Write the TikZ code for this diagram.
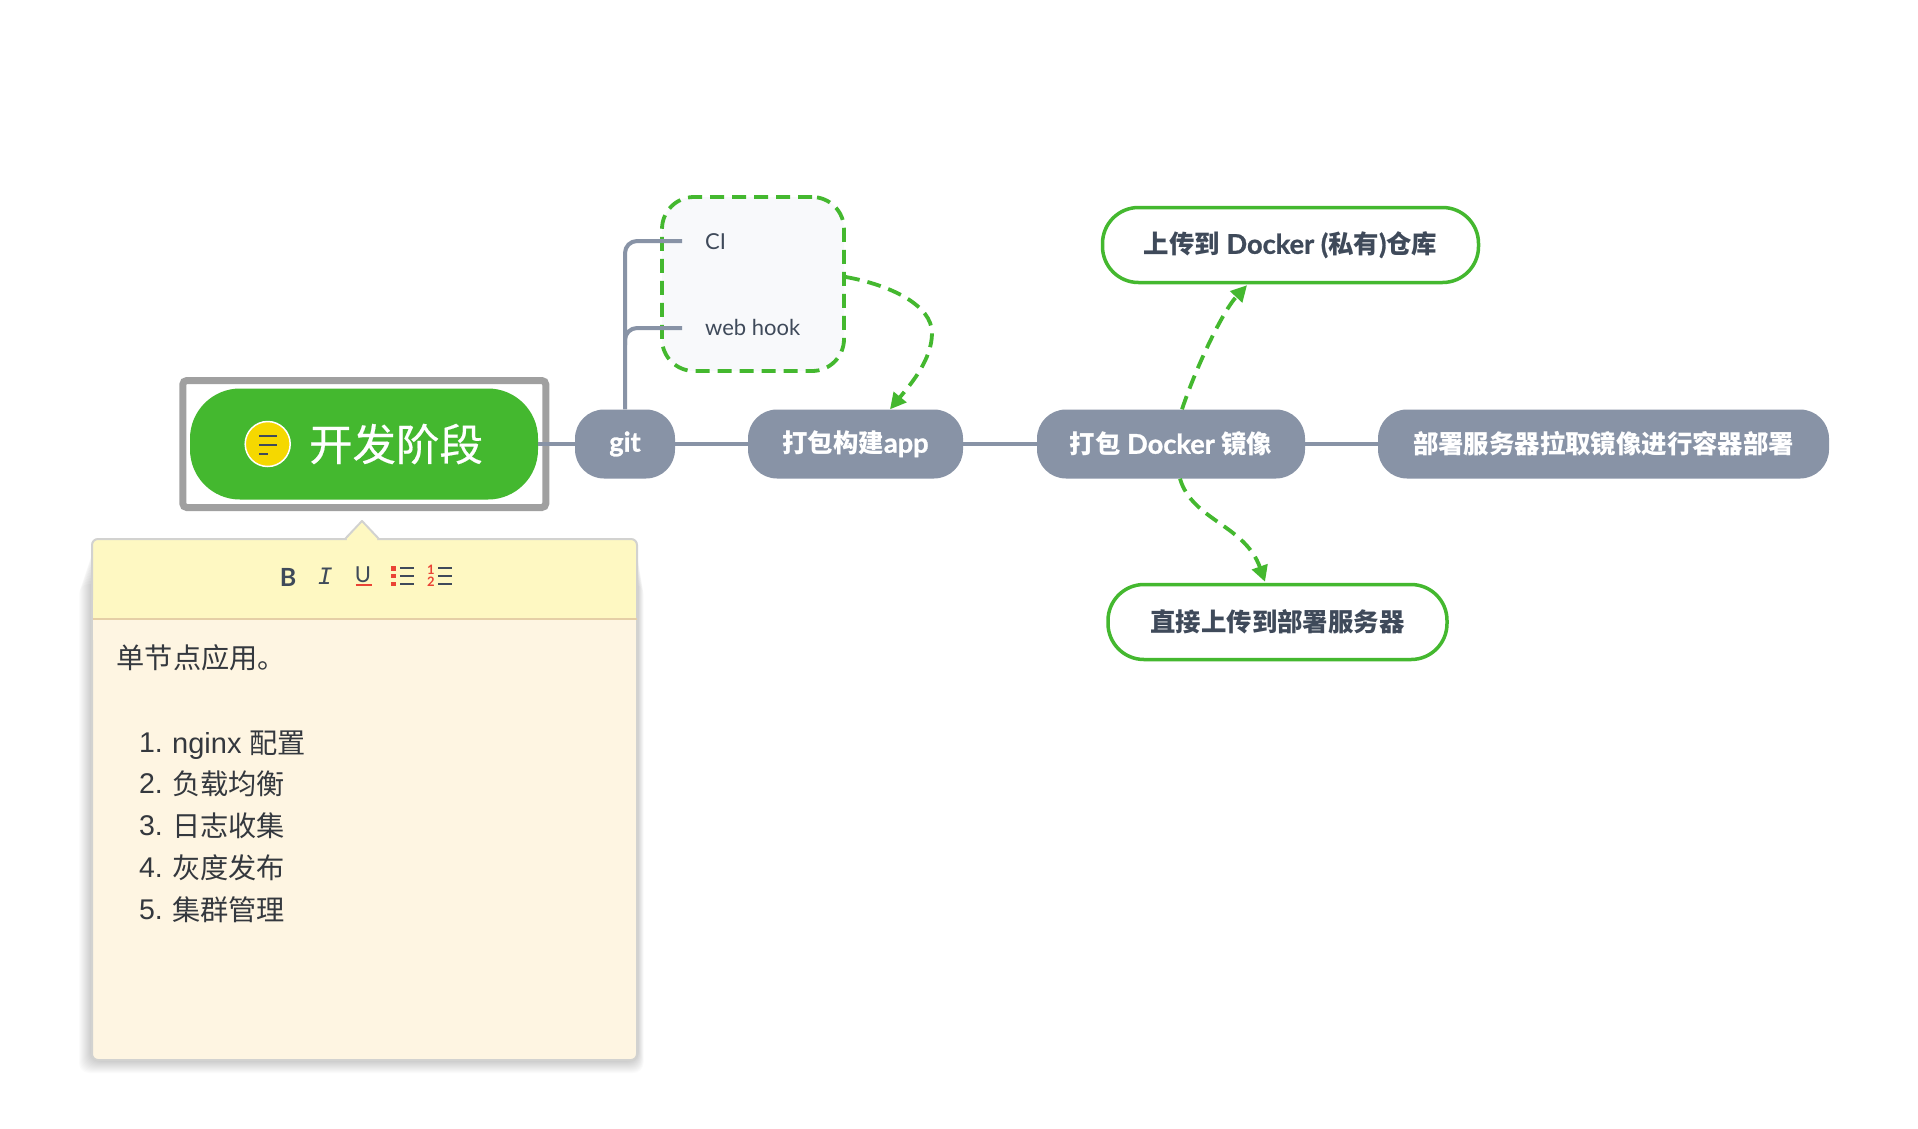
\documentclass[tikz,border=0pt]{standalone}
\usepackage{fontspec}
\setmainfont{Lato}
\newfontfamily\cjk{Noto Sans CJK SC}
\newfontfamily\cjkm{Noto Sans CJK SC}[FakeBold=0.35]
\newfontfamily\cjkb{Noto Sans CJK SC}
\newfontfamily\heavy{Lato}[Scale=1.07,BoldFeatures={FakeBold=1}]
\newfontfamily\notelat{Liberation Sans}
\newfontfamily\tmono{Liberation Mono}
\usetikzlibrary{arrows.meta}
\definecolor{grn}{HTML}{44B82F}
\definecolor{gry}{HTML}{8893A6}
\definecolor{frm}{HTML}{A0A0A0}
\definecolor{ink}{HTML}{3F4A5A}
\definecolor{noteink}{HTML}{34383E}
\definecolor{hdr}{HTML}{FEF8C2}
\definecolor{bod}{HTML}{FEF5E2}
\definecolor{sep}{HTML}{E5CFA6}
\definecolor{edge}{HTML}{D2D2D0}
\definecolor{ylw}{HTML}{F5D800}
\definecolor{red1}{HTML}{EA4335}
\definecolor{boxbg}{HTML}{F8F9FB}
\newcommand{\cj}[1]{{\cjkb\bfseries #1}}
\tikzset{
  graypill/.style={fill=gry,text=white,rounded corners=29pt,minimum height=69pt,inner sep=0pt,font=\fontsize{25.4}{25.4}\selectfont\heavy\bfseries},
  greenpill/.style={draw=grn,line width=3.5pt,fill=white,text=ink,rounded corners=36pt,minimum height=75pt,inner sep=0pt,font=\fontsize{25.4}{25.4}\selectfont\heavy\bfseries},
  link/.style={draw=gry,line width=4pt},
  flow/.style={draw=grn,line width=3.8pt,dash pattern=on 14pt off 8pt,-{Triangle[length=16pt,width=16pt,fill=grn]}},
  leaf/.style={text=ink,inner sep=0pt,font=\fontsize{22}{22}\selectfont},
  noteline/.style={text=noteink,inner sep=0pt,anchor=west,font=\fontsize{28.2}{28.2}\selectfont\notelat},
  notenum/.style={text=noteink,inner sep=0pt,anchor=east,font=\fontsize{28.5}{28.5}\selectfont\notelat},
  tool/.style={draw=ink,line width=1.8pt},
}
\begin{document}
\begin{tikzpicture}[x=1pt,y=-1pt]
\useasboundingbox (0,0) rectangle (1918,1128);
\fill[white] (0,0) rectangle (1918,1128);
% note shadow
\foreach \s in {13,12,11,10,9,8,7,6,5,4,3,2,1}{
  \fill[black,opacity=0.014,rounded corners=10pt] (92-\s,545+3*\s) rectangle (637+0.5*\s,1060+\s);
}
% note
\node[draw=edge,line width=2pt,fill=hdr,minimum width=545pt,minimum height=79pt,rounded corners=6pt,inner sep=0pt] (hdrbox) at (364.5,578.5) {};
\draw[edge,line width=2pt,fill=hdr,line join=round] (345,539) -- (362,521) -- (379,539);
\fill[hdr] (347,539) -- (362,523) -- (377,539) -- (377,542) -- (347,542) -- cycle;
\draw[edge,line width=2pt,fill=bod,rounded corners=6pt] (92,600) -- (92,1060) -- (637,1060) -- (637,600);
\fill[bod] (93,618) rectangle (636,640);
\fill[hdr] (93,600) rectangle (636,618);
\draw[sep,line width=2pt] (92.5,618.5) -- (636.5,618.5);
% toolbar
\node[text=ink,inner sep=0pt,font=\fontsize{25}{25}\selectfont\bfseries] (tb) at (288,577) {B};
\node[text=ink,inner sep=0pt,font=\fontsize{25}{25}\selectfont\tmono\itshape] (ti) at (325,576) {I};
\node[text=ink,inner sep=0pt,font=\fontsize{22}{22}\selectfont] (tu) at (363,575) {U};
\draw[red1,line width=2pt] (355.5,585) -- (371.5,585);
\fill[red1] (391,566) rectangle (395.5,571);
\fill[red1] (391,582) rectangle (395.5,586);
\fill[red1] (391,574) rectangle (395.5,578);
\draw[tool] (400,568) -- (414,568) (400,576) -- (414,576) (400,584) -- (414,584);
\node[text=red1,inner sep=0pt,font=\fontsize{13}{13}\selectfont\bfseries] (n1) at (431,570) {1};
\node[text=red1,inner sep=0pt,font=\fontsize{13}{13}\selectfont\bfseries] (n2) at (431,582) {2};
\draw[tool] (438,568) -- (452,568) (438,576) -- (452,576) (438,584) -- (452,584);
% note text
\node[noteline] (t0) at (116.5,658) {\cjk 单节点应用。};
\node[notenum] (n-1) at (163,743) {1.};
\node[noteline] (t1) at (172,745) {\fontsize{29}{29}\selectfont nginx {\fontsize{28.2}{28.2}\selectfont\cjk 配置}};
\node[notenum] (n-2) at (163,784) {2.};
\node[noteline] (t2) at (172,784) {\cjk 负载均衡};
\node[notenum] (n-3) at (163,826) {3.};
\node[noteline] (t3) at (172,826) {\cjk 日志收集};
\node[notenum] (n-4) at (163,868) {4.};
\node[noteline] (t4) at (172,868) {\cjk 灰度发布};
\node[notenum] (n-5) at (163,910) {5.};
\node[noteline] (t5) at (172,910) {\cjk 集群管理};
% dashed group
\node[draw=grn,line width=3.8pt,dash pattern=on 14pt off 8pt,fill=boxbg,rounded corners=32pt,minimum width=182pt,minimum height=174pt,inner sep=0pt] (grp) at (753,284) {};
% root
\node[fill=grn,rounded corners=50pt,minimum width=348pt,minimum height=111pt,inner sep=0pt] (root) at (364,444) {};
\node[draw=frm,line width=7pt,rounded corners=4pt,minimum width=363pt,minimum height=127pt,inner sep=0pt] (frame) at (364.3,444) {};
\node[circle,fill=ylw,draw=white,line width=1.5pt,minimum size=45pt,inner sep=0pt] (badge) at (267.7,444) {};
\draw[ink,line width=2.4pt] (259,436) -- (277,436) (259,445) -- (277,445) (259,454) -- (268,454);
\node[text=white,inner sep=0pt,font=\fontsize{43.5}{44}\selectfont\cjkm] (roottxt) at (396,444) {开发阶段};
% main nodes
\node[graypill,minimum width=100pt] (git) at (625,444) {git};
\node[graypill,minimum width=215pt] (app) at (855.5,444) {\cj{打包构建}app};
\node[graypill,minimum width=268pt] (img) at (1171,444) {\cj{打包} Docker \cj{镜像}};
\node[graypill,minimum width=451pt] (dep) at (1603.5,444) {\cj{部署服务器拉取镜像进行容器部署}};
\node[greenpill,minimum width=376pt] (up) at (1290.5,245) {\cj{上传到} Docker (\cj{私有})\cj{仓库}};
\node[greenpill,minimum width=339pt] (direct) at (1277.5,622) {\cj{直接上传到部署服务器}};
% leaves
\node[leaf,anchor=west] (ci) at (705,242) {CI};
\node[leaf,anchor=west] (hook) at (705,327) {web hook};
\coordinate (ciend) at (682,241);
\coordinate (hookend) at (682,328);
% connectors
\draw[link] (root.east) -- (git.west);
\draw[link] (git.east) -- (app.west);
\draw[link] (app.east) -- (img.west);
\draw[link] (img.east) -- (dep.west);
\draw[link,rounded corners=12pt] (git.north) -- (625,241) -- (ciend);
\draw[link,rounded corners=12pt] (625,345) -- (625,328) -- (hookend);
% flows
\draw[flow] ([yshift=7pt]grp.east) .. controls (890,285) and (932,305) .. (932,333) .. controls (932,360) and (910,385) .. ([xshift=34.5pt]app.north);
\draw[flow] ([xshift=11pt]img.north) .. controls (1195,370) and (1222,312) .. ([xshift=-43.5pt,yshift=-1pt]up.south);
\draw[flow] ([xshift=9pt]img.south) .. controls (1192,520) and (1245,525) .. ([xshift=-12.5pt,yshift=1pt]direct.north);
\end{tikzpicture}
\end{document}
